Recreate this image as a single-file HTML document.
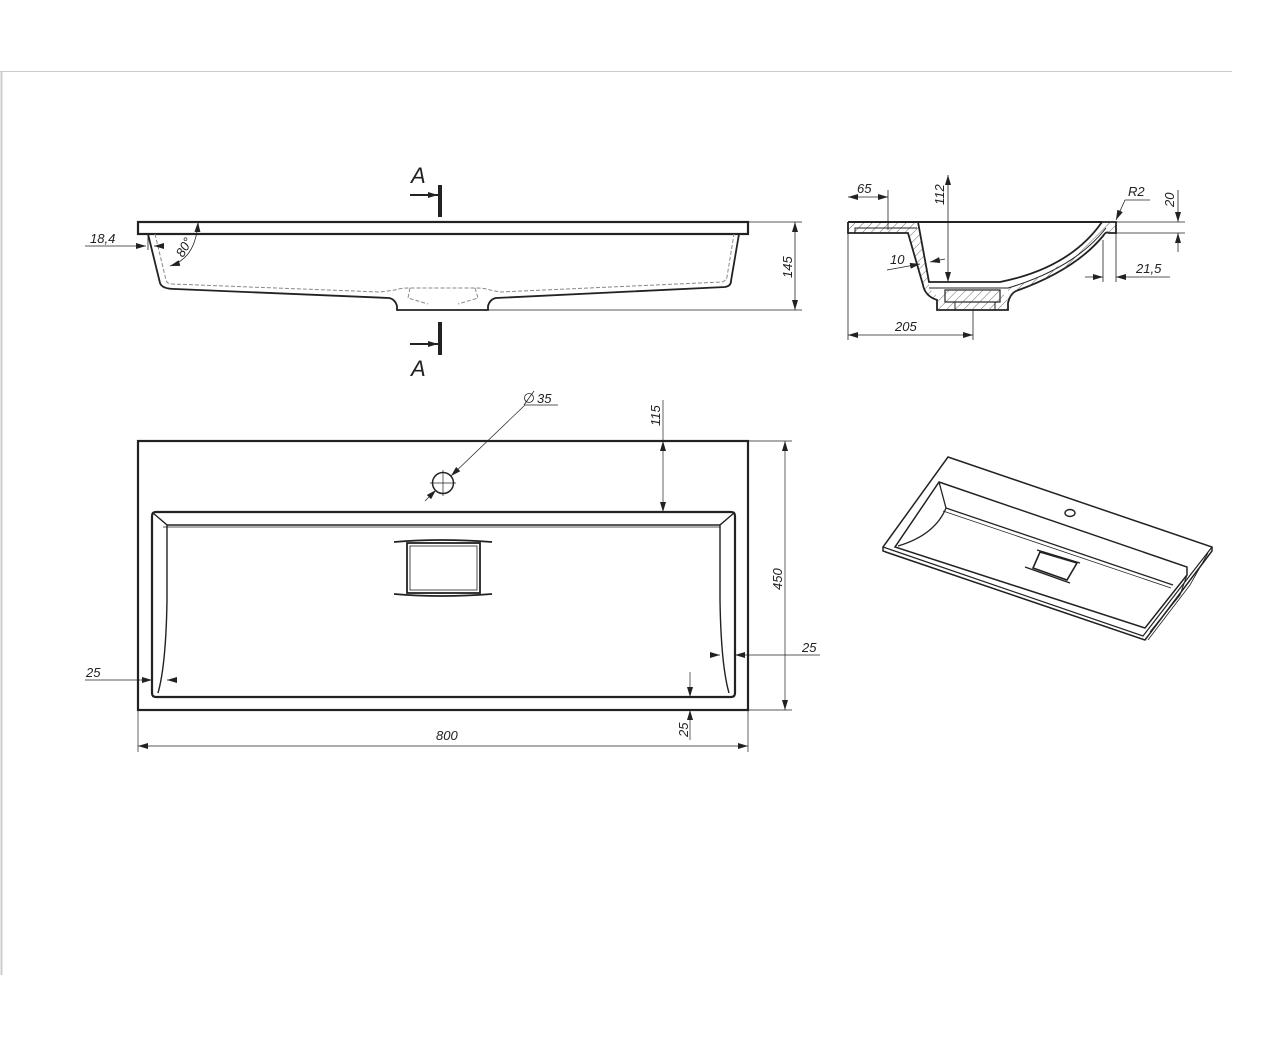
<!DOCTYPE html>
<html><head><meta charset="utf-8"><style>
html,body{margin:0;padding:0;background:#fff;}
svg{display:block;}
text{font-family:"Liberation Sans",sans-serif;font-style:italic;fill:#222;}
</style></head><body>
<svg width="1280" height="1048" viewBox="0 0 1280 1048" xmlns="http://www.w3.org/2000/svg">
<defs>
<marker id="ar" markerWidth="10" markerHeight="6" refX="10" refY="3" orient="auto-start-reverse" markerUnits="userSpaceOnUse"><path d="M0,0 L10,3 L0,6 z" fill="#222"/></marker>
<pattern id="hatch" width="6" height="6" patternUnits="userSpaceOnUse" patternTransform="rotate(45)"><line x1="0" y1="0" x2="0" y2="6" stroke="#444" stroke-width="0.8"/></pattern>
</defs>
<line x1="0" y1="71.5" x2="1232" y2="71.5" stroke="#ccc" stroke-width="1"/>
<line x1="1.5" y1="71" x2="1.5" y2="975" stroke="#ccc" stroke-width="2"/>

<g fill="none" stroke="#222">
<!-- FRONT VIEW -->
<rect x="138" y="222" width="610" height="12" stroke-width="2.2"/>
<path d="M148,234 L160,283 Q162,289 175,289 L389,298 Q395,299 397,306 L397,310 L488,310 L488,306 Q490,299 496,298 L725,287 Q731,286 731,281 L739,234" stroke-width="1.8"/>
<path d="M155,234 L166,280 Q167,284 172,284 L380,292 L395,290 Q400,288 410,288 L475,288 Q485,288 490,290 L500,292 L722,282 Q726,281 727,277 L734,234" stroke="#888" stroke-width="1" stroke-dasharray="4,2"/>
<path d="M410,288 L408,298 L428,304 M475,288 L478,298 L458,304" stroke="#888" stroke-width="1" stroke-dasharray="4,2"/>
<line x1="440" y1="185" x2="440" y2="217" stroke-width="4"/>
<line x1="440" y1="322" x2="440" y2="355" stroke-width="4"/>
<line x1="410" y1="195" x2="438" y2="195" stroke-width="2" marker-end="url(#ar)"/>
<line x1="410" y1="344" x2="438" y2="344" stroke-width="2" marker-end="url(#ar)"/>
<g stroke-width="0.8">
<line x1="748" y1="222" x2="802" y2="222"/>
<line x1="488" y1="310" x2="802" y2="310"/>
<line x1="795" y1="222" x2="795" y2="310" marker-start="url(#ar)" marker-end="url(#ar)"/>
<line x1="85" y1="246" x2="146" y2="246" marker-end="url(#ar)"/>
<line x1="163" y1="246" x2="154" y2="246" marker-end="url(#ar)"/>
<line x1="148" y1="234" x2="148" y2="250"/>
<path d="M198,222 Q196,258 170,266" marker-start="url(#ar)" marker-end="url(#ar)"/>
</g>

<!-- SIDE SECTION -->
<!-- left flange + wall band -->
<path d="M848,222 L918,222 L929,282 L929,288 L937,296 L945,290 L937,300 Q924,295 923,287 L908,233 L848,233 Z" fill="url(#hatch)" stroke="none"/>
<path d="M848,222 L1102,222" stroke-width="2"/>
<path d="M848,222 L848,233 L908,233 L923,285 Q925,296 937,300 L937,310 L1008,310 L1008,303 Q1010,294 1016,291 Q1075,270 1103,236 Q1106,231 1109,233 L1116,233 L1116,222 L1102,222" stroke-width="1.8"/>
<path d="M918,222 L929,282 L1000,282 Q1070,268 1102,222" stroke-width="1.8"/>
<path d="M929,288 L1008,288 Q1075,268 1106,228" stroke-width="1"/>
<!-- right band hatch -->
<path d="M1102,222 L1116,222 L1116,233 L1109,233 Q1106,231 1103,236 Q1075,270 1016,291 L1008,303 L1008,288 Q1075,268 1102,222 Z" fill="url(#hatch)" stroke="none"/>
<path d="M937,300 L945,290 L1000,290 L1008,300 L1008,310 L937,310 Z" fill="url(#hatch)" stroke="none"/>
<path d="M855,233 L855,228 L917,228" stroke-width="1"/>
<rect x="945" y="290" width="55" height="12" fill="#fff" stroke-width="1.2"/>
<rect x="945" y="290" width="55" height="12" fill="url(#hatch)" stroke="none"/>
<path d="M955,302 L955,310 M995,302 L995,310" stroke-width="1"/>
<g stroke-width="0.8">
<line x1="848" y1="222" x2="848" y2="340"/>
<line x1="888" y1="190" x2="888" y2="230"/>
<line x1="848" y1="197" x2="888" y2="197" marker-start="url(#ar)" marker-end="url(#ar)"/>
<line x1="973" y1="310" x2="973" y2="340"/>
<line x1="848" y1="335" x2="973" y2="335" marker-start="url(#ar)" marker-end="url(#ar)"/>
<line x1="948" y1="175" x2="948" y2="282" marker-start="url(#ar)" marker-end="url(#ar)"/>
<line x1="1116" y1="222" x2="1185" y2="222"/>
<line x1="1116" y1="233" x2="1185" y2="233"/>
<line x1="1178" y1="190" x2="1178" y2="222" marker-end="url(#ar)"/>
<line x1="1178" y1="252" x2="1178" y2="233" marker-end="url(#ar)"/>
<line x1="1116" y1="233" x2="1116" y2="282"/>
<line x1="1103" y1="240" x2="1103" y2="282"/>
<line x1="1085" y1="277" x2="1103" y2="277" marker-end="url(#ar)"/>
<line x1="1170" y1="277" x2="1116" y2="277" marker-end="url(#ar)"/>
<line x1="1150" y1="200" x2="1125" y2="200"/>
<line x1="1125" y1="200" x2="1116" y2="220" marker-end="url(#ar)"/>
<line x1="887" y1="270" x2="920" y2="264" marker-end="url(#ar)"/>
<line x1="945" y1="259" x2="930" y2="262" marker-end="url(#ar)"/>
</g>

<!-- PLAN VIEW -->
<rect x="138" y="441" width="610" height="269" stroke-width="2.2"/>
<path d="M156,512 L731,512 Q735,512 735,516 L735,693 Q735,697 731,697 L156,697 Q152,697 152,693 L152,516 Q152,512 156,512 Z" stroke-width="2.2"/>
<path d="M167,525 L720,525" stroke-width="1.5"/>
<path d="M163,527 L720,527" stroke-width="0.8"/>
<path d="M153,513 L167,525 L167,600 Q166,665 158,693" stroke-width="1.4"/>
<path d="M734,513 L720,525 L720,600 Q721,665 729,693" stroke-width="1.4"/>
<rect x="407" y="543" width="73" height="50" stroke-width="1.8"/>
<rect x="410" y="546" width="67" height="44" stroke-width="0.8"/>
<path d="M394,542 Q440,538 492,542 M394,594 Q440,598 492,594" stroke-width="1.8"/>
<circle cx="443" cy="483" r="10.5" stroke-width="1.5"/>
<g stroke-width="0.7">
<line x1="430" y1="483" x2="456" y2="483"/><line x1="443" y1="470" x2="443" y2="496"/>
<line x1="425" y1="501" x2="436" y2="490" marker-end="url(#ar)"/>
<line x1="525" y1="405" x2="451" y2="476" marker-end="url(#ar)"/>
<line x1="525" y1="405" x2="558" y2="405"/>
<line x1="663" y1="400" x2="663" y2="441"/>
<line x1="663" y1="452" x2="663" y2="441" marker-end="url(#ar)"/>
<line x1="663" y1="452" x2="663" y2="512" marker-end="url(#ar)"/>
<line x1="748" y1="441" x2="792" y2="441"/>
<line x1="748" y1="710" x2="792" y2="710"/>
<line x1="785" y1="441" x2="785" y2="710" marker-start="url(#ar)" marker-end="url(#ar)"/>
<line x1="138" y1="710" x2="138" y2="752"/>
<line x1="748" y1="710" x2="748" y2="752"/>
<line x1="138" y1="746" x2="748" y2="746" marker-start="url(#ar)" marker-end="url(#ar)"/>
<line x1="85" y1="680" x2="152" y2="680" marker-end="url(#ar)"/>
<line x1="175" y1="680" x2="167" y2="680" marker-end="url(#ar)"/>
<line x1="710" y1="655" x2="720" y2="655" marker-end="url(#ar)"/>
<line x1="820" y1="655" x2="735" y2="655" marker-end="url(#ar)"/>
<line x1="690" y1="672" x2="690" y2="697" marker-end="url(#ar)"/>
<line x1="690" y1="740" x2="690" y2="710" marker-end="url(#ar)"/>
</g>

<!-- ISO VIEW -->
<path d="M948,457 L1212,547 L1212,551 L1145,640 L883,551 L883,547 Z" fill="#fff" stroke-width="1.5"/>
<path d="M883,547 L1143,636 L1212,547" stroke-width="1.2"/>
<path d="M885,552 L1145,640" stroke-width="1"/>
<path d="M939,482 L1187,567 L1187,575 L1145,628 L895,547 Z" stroke-width="1.5"/>
<path d="M939,482 L946,508 L1173,585" stroke-width="1.3"/>
<path d="M946,508 Q935,535 898,546" stroke-width="1.3"/>
<path d="M943,511 L1171,588" stroke-width="0.8"/>
<path d="M1187,575 L1180,595 L1150,632" stroke-width="1"/>
<path d="M1208,553 L1190,585 L1148,640" stroke-width="0.8"/>
<ellipse cx="1070" cy="513" rx="5" ry="3.5" stroke-width="1.4"/>
<path d="M1040,552 L1077,563 L1067,580 L1033,568 Z" stroke-width="1.6"/>
<path d="M1037,550 L1080,563 M1025,567 L1070,583" stroke-width="1.4"/>
</g>

<g font-size="22"><text x="411" y="183">A</text><text x="411" y="376">A</text></g>
<g font-size="13">
<text x="90" y="243">18,4</text>
<text x="0" y="0" transform="translate(183,258) rotate(-60)">80°</text>
<text x="0" y="0" transform="translate(792,278) rotate(-90)">145</text>
<text x="857" y="193">65</text>
<text x="895" y="331">205</text>
<text x="0" y="0" transform="translate(944,205) rotate(-90)">112</text>
<text x="1128" y="196">R2</text>
<text x="0" y="0" transform="translate(1174,207) rotate(-90)">20</text>
<text x="1136" y="273">21,5</text>
<text x="890" y="264">10</text>
<text x="537" y="403">35</text>
<text x="0" y="0" transform="translate(660,426) rotate(-90)">115</text>
<text x="0" y="0" transform="translate(782,590) rotate(-90)">450</text>
<text x="436" y="740">800</text>
<text x="86" y="677">25</text>
<text x="802" y="652">25</text>
<text x="0" y="0" transform="translate(688,737) rotate(-90)">25</text>
</g>
<g fill="none" stroke="#222" stroke-width="0.8"><circle cx="529" cy="398" r="4.5"/><line x1="524" y1="405" x2="534" y2="391"/></g>
</svg>
</body></html>
